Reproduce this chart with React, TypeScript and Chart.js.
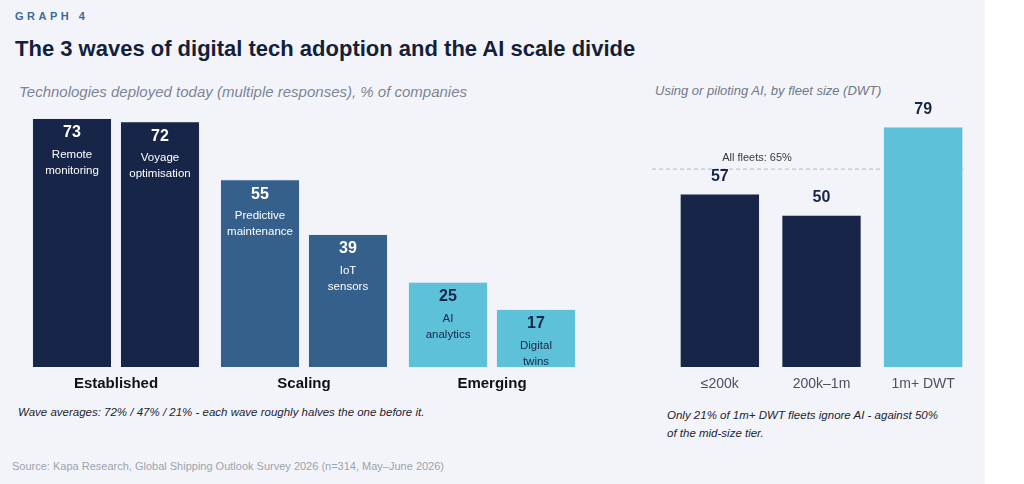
import React, { useEffect, useRef } from "react";
import { Chart, registerables } from "chart.js";
Chart.register(...registerables);

const waves = ["Established", "Scaling", "Emerging"];
const firstTech = [73, 55, 25];
const secondTech = [72, 39, 17];
const firstNames = [["Remote", "monitoring"], ["Predictive", "maintenance"], ["AI", "analytics"]];
const secondNames = [["Voyage", "optimisation"], ["IoT", "sensors"], ["Digital", "twins"]];
const fleetCats = ["≤200k", "200k–1m", "1m+ DWT"];
const fleetValues = [57, 50, 79];
const allFleets = 65;

const NAVY = "#172648";
const BLUE = "#35608c";
const CYAN = "#5dc1d9";
const waveColors = [NAVY, BLUE, CYAN];
const FONT = "'Liberation Sans', Arial, sans-serif";

function LeftChart() {
  const ref = useRef<HTMLCanvasElement>(null);
  useEffect(() => {
    const labelsPlugin = {
      id: "lbl",
      afterDatasetsDraw(chart: any) {
        const ctx = chart.ctx;
        ctx.save();
        ctx.textAlign = "center";
        ctx.textBaseline = "middle";
        chart.data.datasets.forEach((ds: any, di: number) => {
          const meta = chart.getDatasetMeta(di);
          const names = di === 0 ? firstNames : secondNames;
          meta.data.forEach((bar: any, i: number) => {
            ctx.fillStyle = i === 2 ? NAVY : "#ffffff";
            ctx.font = `bold 16px ${FONT}`;
            ctx.fillText(String(ds.data[i]), bar.x, bar.y + 15);
            ctx.font = `11.5px ${FONT}`;
            ctx.fillText(names[i][0], bar.x, bar.y + 37);
            ctx.fillText(names[i][1], bar.x, bar.y + 53);
          });
        });
        const xs = chart.scales.x;
        ctx.fillStyle = "#111111";
        ctx.font = `bold 15px ${FONT}`;
        waves.forEach((w, i) => ctx.fillText(w, xs.getPixelForValue(i), chart.chartArea.bottom + 17));
        ctx.restore();
      },
    };
    const c = new Chart(ref.current!, {
      type: "bar",
      data: {
        labels: waves,
        datasets: [
          { data: firstTech, backgroundColor: waveColors, borderColor: "#e9eef6", borderWidth: 1, categoryPercentage: 0.936, barPercentage: 0.909 },
          { data: secondTech, backgroundColor: waveColors, borderColor: "#e9eef6", borderWidth: 1, categoryPercentage: 0.936, barPercentage: 0.909 },
        ],
      },
      options: {
        animation: false,
        responsive: false,
        layout: { padding: { left: 22, right: 14, top: 14, bottom: 33 } },
        plugins: { legend: { display: false }, tooltip: { enabled: false } },
        scales: { x: { display: false }, y: { display: false, min: 0, max: 80 } },
      },
      plugins: [labelsPlugin],
    });
    return () => c.destroy();
  }, []);
  return <canvas ref={ref} width={600} height={320} style={{ position: "absolute", left: 0, top: 80, width: 600, height: 320 }} />;
}

function RightChart() {
  const ref = useRef<HTMLCanvasElement>(null);
  useEffect(() => {
    const plug = {
      id: "rl",
      beforeDatasetsDraw(chart: any) {
        const ctx = chart.ctx;
        const y = chart.scales.y.getPixelForValue(allFleets);
        ctx.save();
        ctx.strokeStyle = "#b4b8c0";
        ctx.lineWidth = 1;
        ctx.setLineDash([4, 3]);
        ctx.beginPath();
        ctx.moveTo(chart.chartArea.left - 17, y);
        ctx.lineTo(chart.chartArea.right - 7, y);
        ctx.stroke();
        ctx.restore();
      },
      afterDatasetsDraw(chart: any) {
        const ctx = chart.ctx;
        ctx.save();
        ctx.textAlign = "center";
        ctx.textBaseline = "middle";
        const meta = chart.getDatasetMeta(0);
        ctx.fillStyle = NAVY;
        ctx.font = `bold 16px ${FONT}`;
        meta.data.forEach((bar: any, i: number) => ctx.fillText(String(fleetValues[i]), bar.x, bar.y - 17));
        ctx.fillStyle = "#333a44";
        ctx.font = `11px ${FONT}`;
        const y = chart.scales.y.getPixelForValue(allFleets);
        ctx.fillText(`All fleets: ${allFleets}%`, chart.chartArea.left + 88, y - 11);
        ctx.fillStyle = "#4a5260";
        ctx.font = `14px ${FONT}`;
        const xs = chart.scales.x;
        fleetCats.forEach((t, i) => ctx.fillText(t, xs.getPixelForValue(i), chart.chartArea.bottom + 17));
        ctx.restore();
      },
    };
    const c = new Chart(ref.current!, {
      type: "bar",
      data: {
        labels: fleetCats,
        datasets: [{ data: fleetValues, backgroundColor: [NAVY, NAVY, CYAN], borderColor: "#e9eef6", borderWidth: 1, categoryPercentage: 1, barPercentage: 0.79 }],
      },
      options: {
        animation: false,
        responsive: false,
        layout: { padding: { left: 69, right: 50, top: 13, bottom: 33 } },
        plugins: { legend: { display: false }, tooltip: { enabled: false } },
        scales: { x: { display: false }, y: { display: false, min: 0, max: 90 } },
      },
      plugins: [plug],
    });
    return () => c.destroy();
  }, []);
  return <canvas ref={ref} width={424} height={320} style={{ position: "absolute", left: 600, top: 80, width: 424, height: 320 }} />;
}

export default function App() {
  const t = (s: React.CSSProperties): React.CSSProperties => ({ position: "absolute", margin: 0, whiteSpace: "nowrap", fontFamily: FONT, ...s });
  return (
    <div style={{ position: "fixed", left: 0, top: 0, width: 1024, height: 484, background: "#ffffff", overflow: "hidden" }}>
      <div style={{ position: "absolute", left: 0, top: 0, width: 985, height: 484, background: "#f3f4f9" }} />
      <div style={t({ left: 15, top: 10, fontSize: 11, fontWeight: 700, letterSpacing: 3.5, color: "#3b6b9b" })}>GRAPH 4</div>
      <div style={t({ left: 15, top: 36, fontSize: 22, fontWeight: 700, color: "#141f3a" })}>The 3 waves of digital tech adoption and the AI scale divide</div>
      <div style={t({ left: 19, top: 83, fontSize: 15, fontStyle: "italic", color: "#7b8596" })}>Technologies deployed today (multiple responses), % of companies</div>
      <div style={t({ left: 655, top: 83, fontSize: 13, fontStyle: "italic", color: "#6f7888" })}>Using or piloting AI, by fleet size (DWT)</div>
      <LeftChart />
      <RightChart />
      <div style={t({ left: 18, top: 406, fontSize: 11.5, fontStyle: "italic", color: "#1d2330" })}>Wave averages: 72% / 47% / 21% - each wave roughly halves the one before it.</div>
      <div style={t({ left: 667, top: 406, fontSize: 11.5, fontStyle: "italic", color: "#1d2330", lineHeight: "18px" })}>Only 21% of 1m+ DWT fleets ignore AI - against 50%<br />of the mid-size tier.</div>
      <div style={t({ left: 12, top: 460, fontSize: 11, color: "#9ba3b0" })}>Source: Kapa Research, Global Shipping Outlook Survey 2026 (n=314, May–June 2026)</div>
    </div>
  );
}
